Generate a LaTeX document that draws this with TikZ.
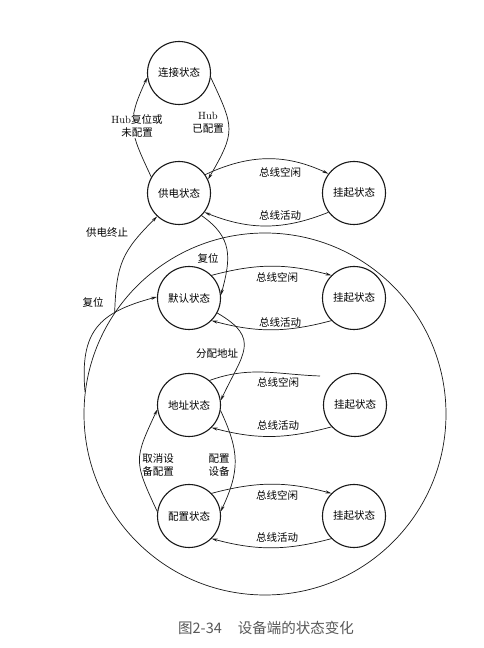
\documentclass[tikz,border=0pt]{standalone}
\usepackage{fontspec}
\newfontfamily\cjk{Noto Sans CJK SC}
\usetikzlibrary{arrows.meta}
\begin{document}
\begin{tikzpicture}[x=1pt,y=1pt,
  st/.style={circle,draw=black!90,line width=1.1pt,minimum size=63pt,inner sep=0pt,font=\cjk\fontsize{10.5}{12}\selectfont},
  tr/.style={draw=black!90,line width=0.7pt,-{Stealth[length=6pt,width=3pt]}},
  plainln/.style={draw=black!90,line width=0.7pt},
  lb/.style={font=\cjk\fontsize{10.5}{12.5}\selectfont,align=center,inner sep=1pt},
  lbw/.style={lb,fill=white}]
\useasboundingbox[fill=white] (0,0) rectangle (484,648);

% states
\node[st] (lj) at (179,575) {连接状态};
\node[st] (gd) at (179,455) {供电状态};
\node[st] (g1) at (354,455) {挂起状态};
\node[st] (mr) at (189,350) {默认状态};
\node[st] (g2) at (354,350) {挂起状态};
\node[st] (dz) at (189,243) {地址状态};
\node[st] (g3) at (355,243) {挂起状态};
\node[st] (pz) at (189,132) {配置状态};
\node[st] (g4) at (354,132) {挂起状态};
\node[circle,draw=black!90,line width=0.7pt,minimum size=362pt,inner sep=0pt] (big) at (265,234) {};
\coordinate (c3) at (320,272);

% Hub transitions
\draw[tr] (gd.150) to[out=115,in=245,looseness=1.3] (lj.188);
\draw[tr] (lj.-8) to[out=-65,in=60,looseness=1.4] (gd.25);
\node[lbw] (lhub1) at (137,522) {{\rmfamily Hub}复位或\\未配置};
\node[lb] (lhub2) at (208,525) {{\rmfamily Hub}\\已配置};

% power state <-> suspend
\draw[tr] (gd.35) to[out=25,in=155] (g1.143);
\draw[tr] (g1.217) to[out=202,in=-22] (gd.-37);
\node[lb] (l1a) at (280,476) {总线空闲};
\node[lb] (l1b) at (280,433) {总线活动};

% default <-> suspend
\draw[tr] (mr.45) to[out=15,in=165] (g2.135);
\draw[tr] (g2.225) to[out=195,in=-15] (mr.-45);
\node[lb] (l2a) at (277,371) {总线空闲};
\node[lb] (l2b) at (280,326) {总线活动};

% address <-> suspend
\draw[plainln] (dz.50) to[out=20,in=178] (c3);
\draw[tr] (g3.223) to[out=195,in=-15] (dz.-45);
\node[lb] (l3a) at (278,266) {总线空闲};
\node[lb] (l3b) at (278,223) {总线活动};

% configured <-> suspend
\draw[tr] (pz.45) to[out=15,in=165] (g4.135);
\draw[tr] (g4.225) to[out=195,in=-15] (pz.-45);
\node[lb] (l4a) at (277,153) {总线空闲};
\node[lb] (l4b) at (277,111) {总线活动};

% main chain
\draw[tr] (gd.-45) to[out=-35,in=75,looseness=1.2] (mr.5);
\node[lb] (lrs1) at (208,390) {复位};
\draw[tr] (mr.-28) to[out=-30,in=65,looseness=1.5] (dz.8);
\node[lb] (lfp) at (217,294) {分配地址};
\draw[tr] (dz.-10) to[out=-65,in=65,looseness=1.15] (pz.8);
\node[lb] (lpz) at (219,183) {配置\\设备};
\draw[tr] (pz.172) to[out=115,in=245,looseness=1.4] (dz.188);
\node[lb] (lqx) at (158,183) {取消设\\备配置};

% from the big circle
\draw[tr] (big.146) to[out=88,in=225,looseness=1.2] (gd.227);
\node[lb] (lgd) at (107,415) {供电终止};
\draw[tr] (big.173) to[out=95,in=195,looseness=1.3] (mr.178);
\node[lb] (lrs2) at (93,346) {复位};

% caption
\node[font=\cjk\fontsize{14.5}{16}\selectfont,text=black!65] (cap) at (266,20) {图2-34\hspace{1.1em}设备端的状态变化};
\end{tikzpicture}
\end{document}
